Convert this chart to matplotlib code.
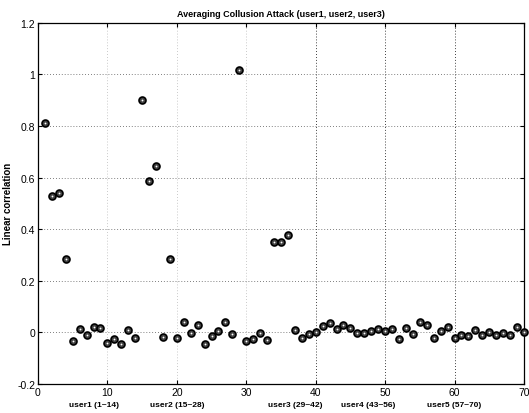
import matplotlib
matplotlib.use("Agg")
import matplotlib.pyplot as plt
import matplotlib.transforms as mtransforms

plt.rcParams['font.family'] = ['Liberation Sans', 'DejaVu Sans']

title = "Averaging Collusion Attack (user1, user2, user3)"
ylabel = "Linear correlation"

watermark_index = list(range(1, 71))
correlation = [
    0.813, 0.528, 0.541, 0.285, -0.033, 0.012, -0.009, 0.020, 0.017, -0.040,
    -0.026, -0.046, 0.009, -0.023, 0.900, 0.585, 0.643, -0.017, 0.285, -0.022,
    0.040, -0.003, 0.028, -0.045, -0.013, 0.004, 0.042, -0.008, 1.015, -0.035,
    -0.024, -0.003, -0.028, 0.351, 0.349, 0.376, 0.009, -0.022, -0.006, 0.000,
    0.023, 0.037, 0.012, 0.028, 0.017, -0.004, -0.004, 0.006, 0.012, 0.005,
    0.012, -0.027, 0.018, -0.008, 0.041, 0.028, -0.022, 0.006, 0.020, -0.020,
    -0.010, -0.014, 0.008, -0.010, 0.000, -0.012, -0.003, -0.012, 0.022, 0.000,
]

group_labels = ["user1 (1~14)", "user2 (15~28)", "user3 (29~42)", "user4 (43~56)", "user5 (57~70)"]
group_label_pos = [8, 20, 37, 47.5, 60]

xticks = [0, 10, 20, 30, 40, 50, 60, 70]
yticks = [-0.2, 0, 0.2, 0.4, 0.6, 0.8, 1, 1.2]
yticklabels = ["-0.2", "0", "0.2", "0.4", "0.6", "0.8", "1", "1.2"]

fig = plt.figure(figsize=(5.29, 4.14), dpi=100)
ax = fig.add_axes([0.0718, 0.070, 0.9187, 0.8728])

ax.plot(watermark_index, correlation, linestyle='none', marker='o', markersize=5.0,
        markerfacecolor='#444444', markeredgecolor='black', markeredgewidth=1.2,
        clip_on=False, zorder=3)
ax.plot(watermark_index, correlation, linestyle='none', marker='o', markersize=1.3,
        markerfacecolor='white', markeredgecolor='white', markeredgewidth=0,
        clip_on=False, zorder=4)

ax.set_xlim(0, 70)
ax.set_ylim(-0.2, 1.2)
ax.set_xticks(xticks)
ax.set_xticklabels([str(t) for t in xticks])
ax.set_yticks(yticks)
ax.set_yticklabels(yticklabels)
ax.tick_params(direction='in', top=True, right=True, length=3, width=0.8,
               labelsize=7.5, pad=2)

ax.grid(True, linestyle=(0, (1, 2.5)), color='#555555', linewidth=0.6)
for t, gl in zip(xticks, ax.xaxis.get_gridlines()):
    if t < 40:
        gl.set_color('#b8b8b8')
    else:
        gl.set_color('black')
for sp in ax.spines.values():
    sp.set_linewidth(0.9)

ax.set_title(title, fontsize=6.5, fontweight='bold', pad=5)
ax.set_ylabel(ylabel, fontsize=7, fontweight='bold', labelpad=3)

trans = mtransforms.blended_transform_factory(ax.transData, fig.transFigure)
for lab, pos in zip(group_labels, group_label_pos):
    ax.text(pos, 0.013, lab, transform=trans, ha='center', va='bottom',
            fontsize=6, fontweight='bold')

fig.savefig("out.png", dpi=100)
